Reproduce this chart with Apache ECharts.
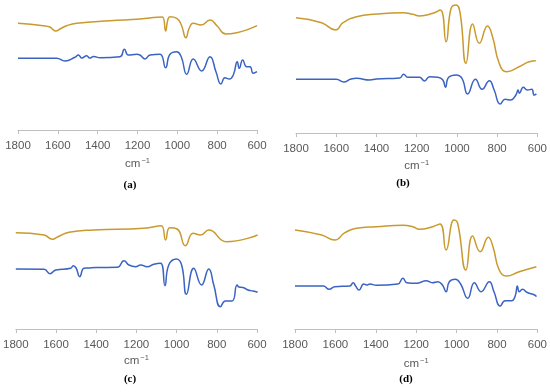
<!DOCTYPE html>
<html><head><meta charset="utf-8">
<script src="https://cdn.jsdelivr.net/npm/echarts@6/dist/echarts.min.js"></script>
<style>html,body{margin:0;padding:0;background:#fff}#c{width:550px;height:392px}</style>
</head><body><div id="c"></div>
<script>
// Wavenumber (cm-1) and relative intensity (arbitrary units) for each panel
const orangeA = [[1800,106.7],[1673,104.3],[1640,103],[1611,99],[1585,101.5],[1556,104.3],[1505,106.7],[1338,109.3],[1188,111],[1100,112.7],[1075,113],[1059,99],[1048,110],[1037,113.3],[1003,111.7],[980,105],[957,92.3],[940,102],[920,106.7],[881,105],[836,110],[800,104],[756,96],[600,104.3]];
const blueA = [[1800,71.7],[1606,71.7],[1564,69],[1514,72.7],[1497,75],[1480,72],[1455,74.3],[1440,72],[1420,73.5],[1388,72.3],[1288,73.3],[1266,80.7],[1246,75],[1204,75.7],[1188,75],[1162,71],[1137,75],[1087,75.7],[1059,62.3],[1037,75.7],[1003,78.3],[980,73],[953,55.7],[920,71],[878,59],[836,73.3],[806,58.3],[781,46],[761,52.3],[739,51],[719,55],[699,68.3],[689,61.7],[672,70],[652,63.3],[635,63.3],[619,56.7],[600,58.3]];
const orangeB = [[1800,115.3],[1673,110.3],[1603,103],[1566,110.3],[1499,116.3],[1400,119],[1269,120.3],[1219,118.7],[1186,117],[1120,119.7],[1083,123],[1054,91.3],[1029,124.7],[1004,128],[984,119.7],[955,69.7],[922,109],[889,89.7],[848,107],[823,96.3],[790,69.7],[753,61.3],[691,66.3],[641,71.3],[608,72.3]];
const blueB = [[1800,53.7],[1600,53.7],[1562,51],[1530,53.7],[1499,54.7],[1433,53],[1400,54],[1285,55],[1265,58.7],[1244,55.7],[1186,55.7],[1161,52],[1136,56.3],[1095,55.7],[1070,53],[1057,45.7],[1041,55.7],[1004,58],[975,54.7],[947,39],[908,53.7],[875,43.7],[839,52.3],[815,43],[785,29],[760,33.7],[732,33],[707,38],[696,43],[690,39.7],[670,45.7],[650,43],[628,43.7],[616,38],[605,39]];
const orangeC = [[1800,96.3],[1659,94],[1618,89.7],[1590,92.3],[1535,96.7],[1411,99],[1163,100.7],[1077,103.3],[1055,89],[1034,101.3],[997,100],[956,83.3],[918,95.7],[881,94],[840,99],[752,87.3],[597,94]];
const blueC = [[1800,60],[1659,59.7],[1630,55.3],[1601,59],[1527,60.7],[1514,63.3],[1500,61],[1482,52.3],[1461,60.7],[1440,61],[1400,61.5],[1295,61.7],[1262,68.3],[1237,64],[1204,62.3],[1179,64],[1146,62.3],[1113,64.7],[1080,65.7],[1058,43.3],[1039,64],[1001,70],[975,64],[951,34.7],[915,60.7],[876,44],[840,60],[815,44],[782,22.3],[757,28],[724,28],[699,44],[690,42],[666,41.3],[645,39],[620,38],[597,36.7]];
const orangeD = [[1800,99],[1668,94],[1603,89],[1553,96.3],[1496,100.7],[1397,102.3],[1266,103.7],[1217,102.3],[1184,99.7],[1118,102.3],[1082,105],[1052,79],[1013,109],[995,106],[954,59],[921,93],[883,77.3],[843,91.7],[820,82.3],[789,59],[753,53],[690,57.3],[605,62.3]];
const blueD = [[1800,43],[1660,43],[1631,39.7],[1603,42.3],[1529,43],[1512,46.3],[1500,43],[1483,39],[1460,45],[1445,44],[1430,45],[1397,43.7],[1291,45],[1266,50.7],[1246,46.3],[1200,45.7],[1184,46.3],[1151,48.3],[1120,46.3],[1093,47.3],[1070,44],[1052,37.3],[1036,47.3],[1006,49.7],[980,45],[945,30.7],[912,46.3],[879,37.3],[838,47.3],[815,37.3],[784,23],[760,28.3],[727,28.3],[710,33],[699,43],[690,37.3],[674,39.7],[650,36.5],[614,34],[605,32.3]];
const panelLabels = ['(a)','(b)','(c)','(d)'];
const xTicks = {min:600, max:1800, interval:200};

const ORANGE = '#C99A2E', BLUE = '#3B63C2';
const grids = [
  {left:18, top:0, width:239, height:130},
  {left:296, top:0, width:242, height:133},
  {left:15, top:196, width:242, height:133},
  {left:295, top:196, width:243, height:133}
];
const yMax = [130,133,133,133];
const nameGaps = [27,26,25,28];
const series = [[orangeA,blueA],[orangeB,blueB],[orangeC,blueC],[orangeD,blueD]];
const xAxis = [], yAxis = [], ser = [];
grids.forEach((g,i)=>{
  xAxis.push({type:'value', gridIndex:i, inverse:true, min:xTicks.min, max:xTicks.max, interval:xTicks.interval,
    axisLine:{show:true, lineStyle:{color:'#BFBFBF', width:1}},
    axisTick:{show:true, length:4, lineStyle:{color:'#BFBFBF'}},
    splitLine:{show:false},
    axisLabel:{color:'#595959', fontSize:11.5, fontFamily:'Liberation Sans', margin:10, formatter:v=>String(v)},
    name:'{a|cm}{b|−1}', nameLocation:'middle', nameGap:nameGaps[i],
    nameTextStyle:{rich:{a:{fontSize:11.5, color:'#595959', fontFamily:'Liberation Sans'}, b:{fontSize:7.5, color:'#595959', fontFamily:'Liberation Sans', verticalAlign:'top', padding:[0,0,6,1]}}}
  });
  yAxis.push({type:'value', gridIndex:i, min:0, max:yMax[i], show:false});
  const cols=[ORANGE,BLUE];
  series[i].forEach((d,k)=>{
    ser.push({type:'line', xAxisIndex:i, yAxisIndex:i, data:d, showSymbol:false, symbol:'none', smooth:0.5,
      lineStyle:{color:cols[k], width:1.5}, clip:false, animation:false});
  });
});
const labelPos = [[130,185],[403,183],[130,379],[406,379]];
const graphic = panelLabels.map((t,i)=>({type:'text', x:labelPos[i][0], y:labelPos[i][1],
  style:{text:t, fill:'#000', font:'bold 11px "Liberation Serif"', textAlign:'center', textVerticalAlign:'middle'}}));
const chart = echarts.init(document.getElementById('c'), null, {renderer:'canvas'});
chart.setOption({animation:false, grid:grids, xAxis, yAxis, series:ser, graphic});
</script></body></html>
